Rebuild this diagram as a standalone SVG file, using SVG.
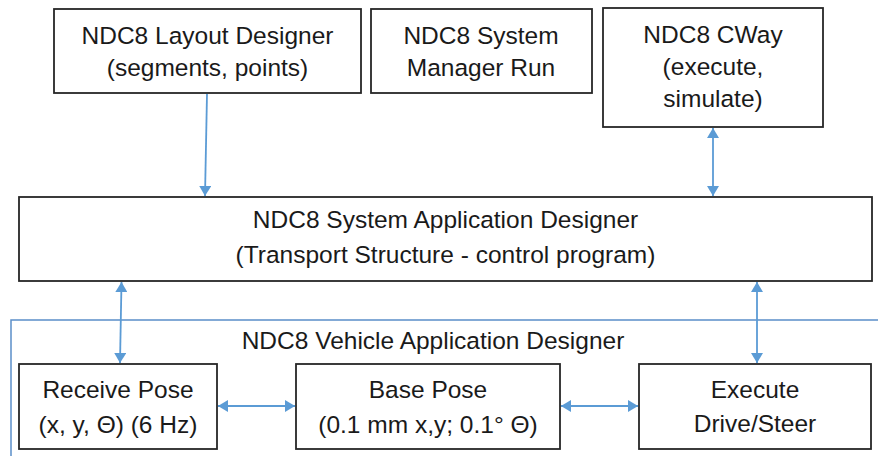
<svg xmlns="http://www.w3.org/2000/svg" width="878" height="456" viewBox="0 0 878 456">
<style>
.box{fill:#ffffff;stroke:#262626;stroke-width:1.8}
.t{font-family:"Liberation Sans",Arial,sans-serif;font-size:24.5px;fill:#1a1a1a;text-anchor:middle}
.c{stroke:#5b9bd5;stroke-width:1.8;fill:none}
.cont{fill:none;stroke:#5b8fc9;stroke-width:1.5}
</style>
<defs>
<marker id="ah" viewBox="0 0 10 12" refX="10" refY="6" markerWidth="10" markerHeight="12" markerUnits="userSpaceOnUse" orient="auto-start-reverse">
<path d="M0,0 L10,6 L0,12 z" fill="#5b9bd5"/>
</marker>
</defs>
<rect width="878" height="456" fill="#ffffff"/>
<g id="vehicle-container">
<rect class="cont" x="11" y="320" width="880" height="160"/>
<text class="t" x="433" y="349">NDC8 Vehicle Application Designer</text>
</g>
<g id="layout-designer">
<rect class="box" x="54" y="9" width="307" height="84"/>
<text class="t" x="207.5" y="44">NDC8 Layout Designer</text>
<text class="t" x="207.5" y="76">(segments, points)</text>
</g>
<g id="system-manager">
<rect class="box" x="371" y="9" width="221" height="84"/>
<text class="t" x="481" y="44">NDC8 System</text>
<text class="t" x="481" y="76">Manager Run</text>
</g>
<g id="cway">
<rect class="box" x="603" y="8" width="220" height="119"/>
<text class="t" x="713" y="43">NDC8 CWay</text>
<text class="t" x="713" y="75">(execute,</text>
<text class="t" x="713" y="107">simulate)</text>
</g>
<g id="system-app-designer">
<rect class="box" x="19" y="197" width="853" height="84"/>
<text class="t" x="445.5" y="228">NDC8 System Application Designer</text>
<text class="t" x="445.5" y="263">(Transport Structure - control program)</text>
</g>
<g id="receive-pose">
<rect class="box" x="19" y="364" width="198" height="85"/>
<text class="t" x="118" y="398">Receive Pose</text>
<text class="t" x="118" y="433">(x, y, Θ) (6 Hz)</text>
</g>
<g id="base-pose">
<rect class="box" x="296" y="364" width="264" height="85"/>
<text class="t" x="428" y="398">Base Pose</text>
<text class="t" x="428" y="433">(0.1 mm x,y; 0.1° Θ)</text>
</g>
<g id="execute">
<rect class="box" x="639" y="364" width="232" height="85"/>
<text class="t" x="755" y="398">Execute</text>
<text class="t" x="755" y="432">Drive/Steer</text>
</g>
<g id="connectors">
<line class="c" x1="207" y1="94" x2="205" y2="196" marker-end="url(#ah)"/>
<line class="c" x1="713" y1="128" x2="713" y2="196" marker-start="url(#ah)" marker-end="url(#ah)"/>
<line class="c" x1="121.5" y1="282" x2="120" y2="363" marker-start="url(#ah)" marker-end="url(#ah)"/>
<line class="c" x1="757" y1="282" x2="757" y2="363" marker-start="url(#ah)" marker-end="url(#ah)"/>
<line class="c" x1="218" y1="406" x2="295" y2="406" marker-start="url(#ah)" marker-end="url(#ah)"/>
<line class="c" x1="561" y1="406" x2="638" y2="406" marker-start="url(#ah)" marker-end="url(#ah)"/>
</g>
</svg>
